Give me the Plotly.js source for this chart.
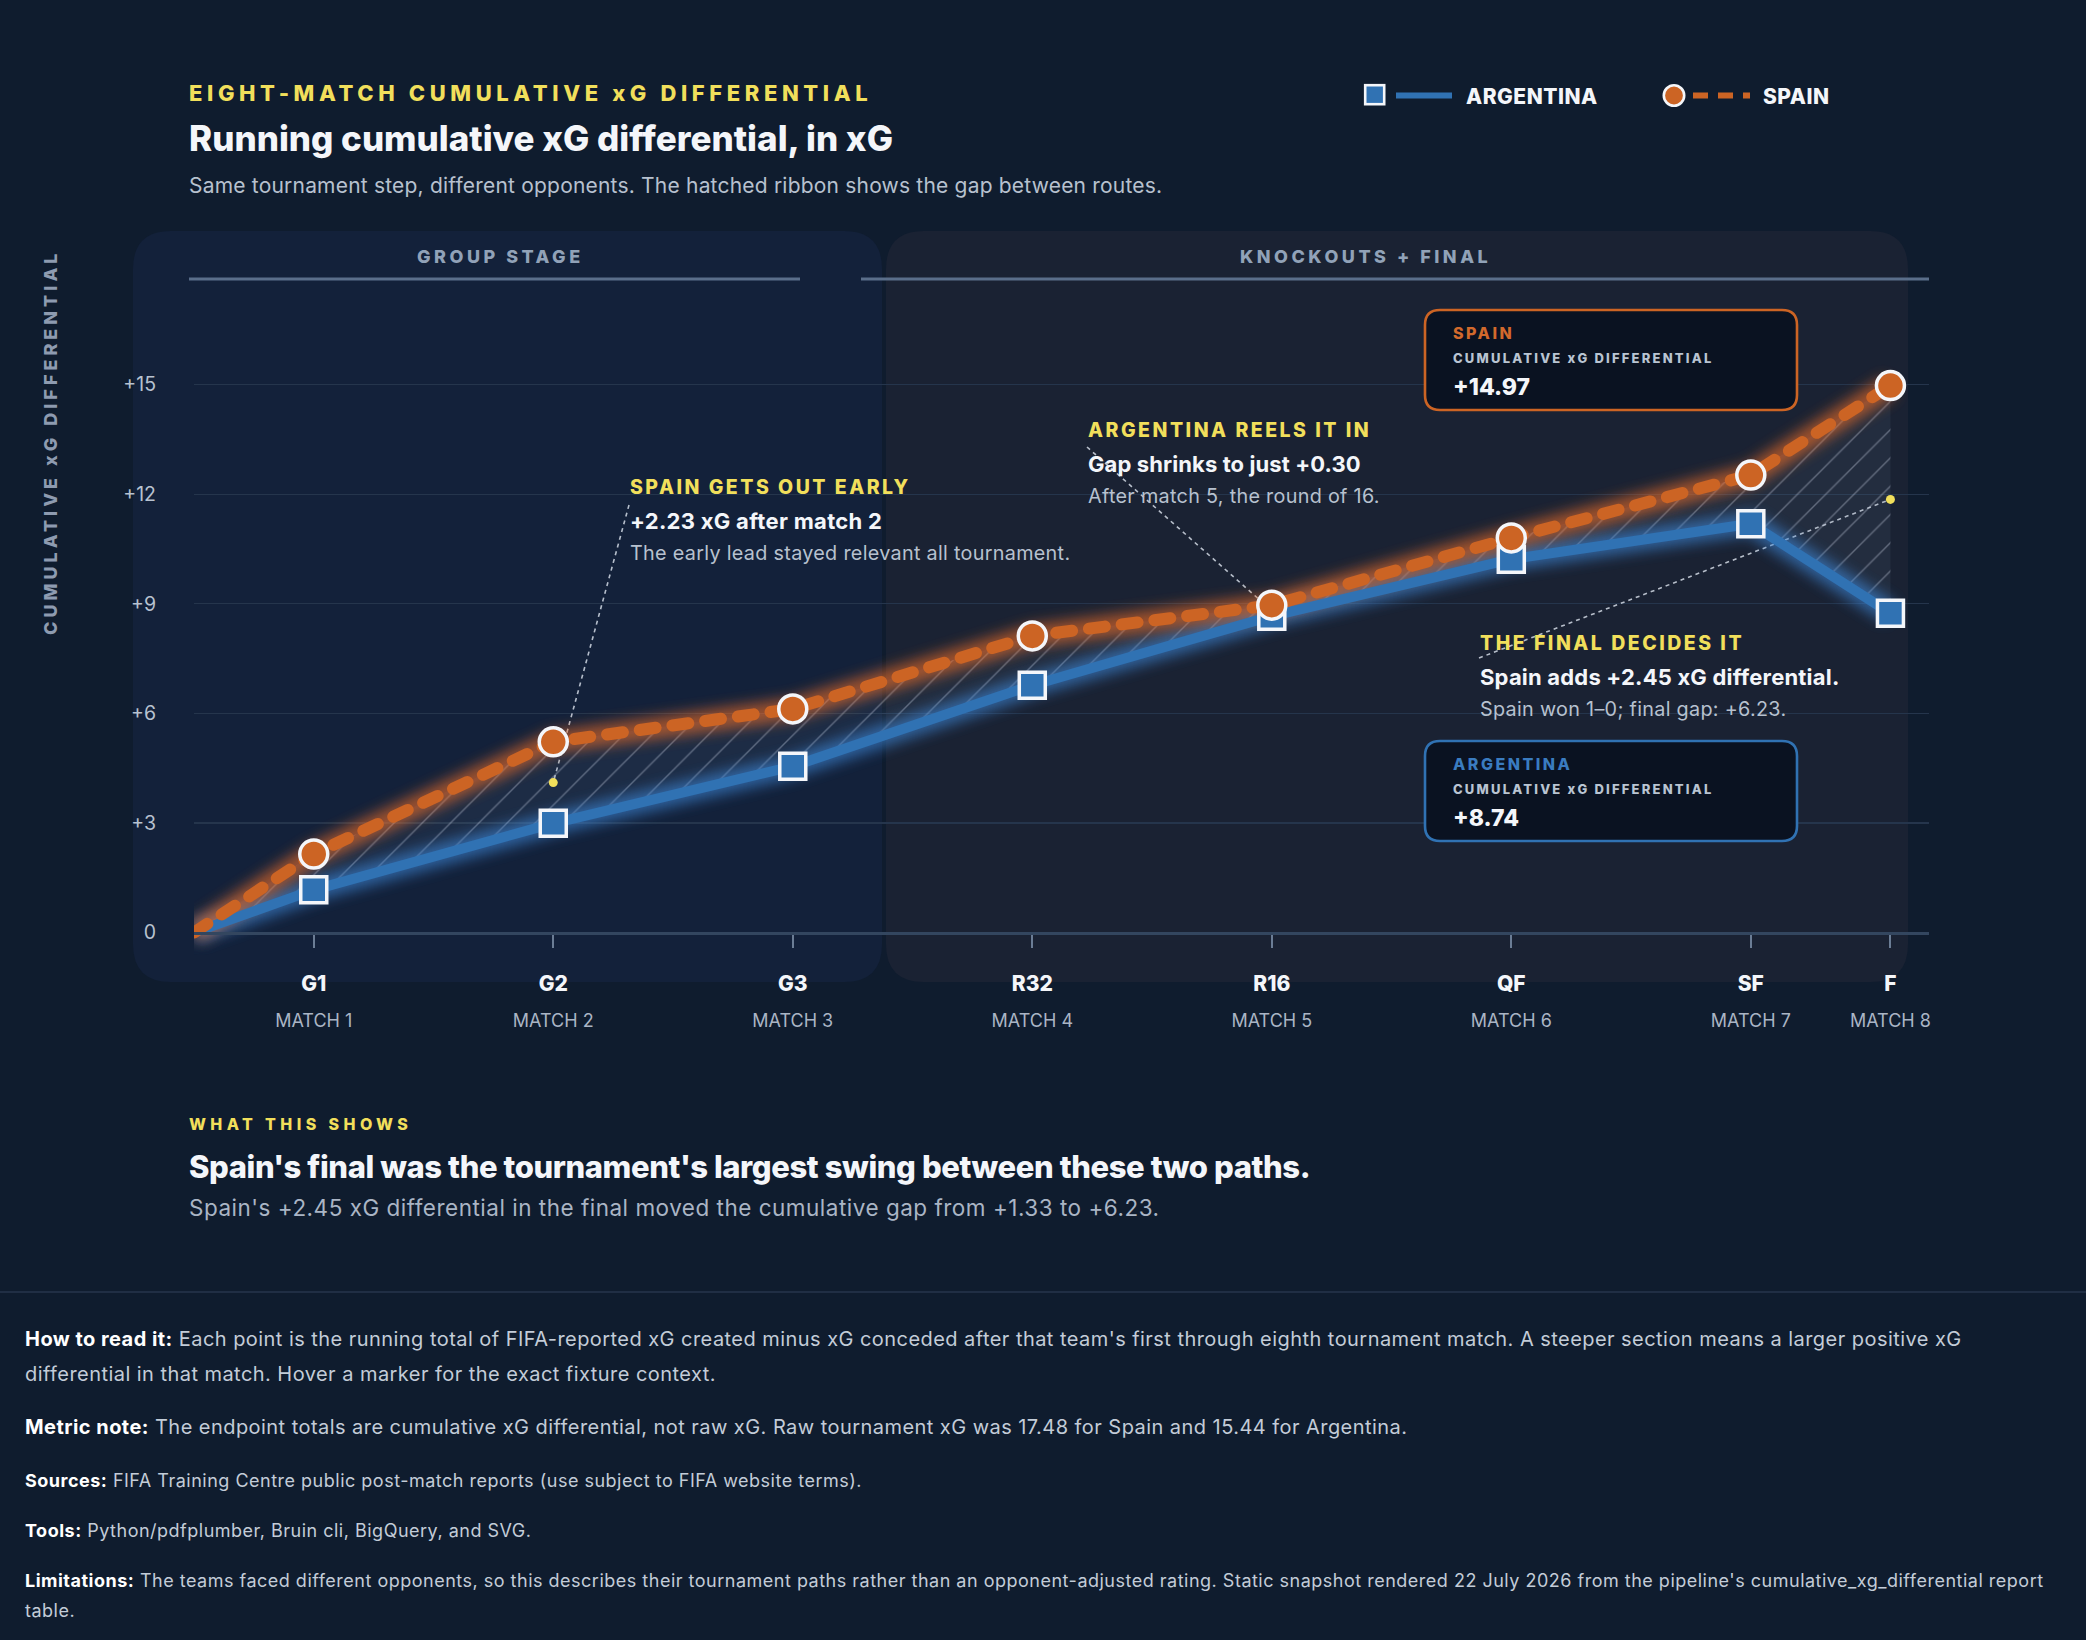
<!DOCTYPE html>
<html>
<head>
<meta charset="utf-8">
<script src="https://cdn.plot.ly/plotly-3.0.1.min.js"></script>
<style>
  html, body { margin: 0; padding: 0; }
  body {
    width: 2086px; height: 1640px; position: relative; overflow: hidden;
    background: #0f1c2e; font-family: Inter, "Noto Sans", sans-serif; color: #f4f6fa;
  }
  #chart { position: absolute; left: 0; top: 0; width: 2086px; height: 1640px; }
  .txt { position: absolute; white-space: nowrap; z-index: 2; }
  .eyebrow { left: 189px; top: 80px; font-size: 22px; line-height: 26px; font-weight: 800; letter-spacing: 4.6px; color: #f1df5b; }
  .title { left: 189px; top: 117px; font-size: 35px; line-height: 42px; font-weight: 800; letter-spacing: 0; color: #f4f6fa; }
  .subtitle { left: 189px; top: 172px; font-size: 21px; line-height: 27px; letter-spacing: 0.2px; color: #b7c1cf; }
  .leg-text { font-size: 21px; line-height: 26px; font-weight: 800; letter-spacing: 0.5px; color: #f4f6fa; top: 84px; }
  .shows-kicker { left: 189px; top: 1114px; font-size: 16px; line-height: 20px; font-weight: 800; letter-spacing: 4.4px; color: #f1df5b; }
  .shows-head { left: 189px; top: 1148px; font-size: 31px; line-height: 38px; font-weight: 800; letter-spacing: -0.4px; color: #f4f6fa; }
  .shows-sub { left: 189px; top: 1194px; font-size: 22.5px; line-height: 27px; letter-spacing: 0.5px; color: #aab5c5; }
  .rule { position: absolute; left: 0; top: 1291px; width: 2086px; height: 2px; background: #202e44; }
  .foot { left: 25px; color: #c3ccd8; }
  .foot b { color: #ffffff; font-weight: 700; }
  .foot.big { font-size: 20px; line-height: 35px; letter-spacing: 0.45px; }
  .foot.small { font-size: 18px; line-height: 30px; letter-spacing: 0.5px; }
</style>
</head>
<body>
<div id="chart"></div>

<div class="txt eyebrow">EIGHT-MATCH CUMULATIVE xG DIFFERENTIAL</div>
<div class="txt title">Running cumulative xG differential, in xG</div>
<div class="txt subtitle">Same tournament step, different opponents. The hatched ribbon shows the gap between routes.</div>

<!-- legend -->
<svg class="txt" style="left:1362px; top:82px;" width="96" height="28">
  <rect x="3.2" y="3.2" width="19" height="19" fill="#3072b3" stroke="#f4f6fa" stroke-width="2.6"></rect>
  <line x1="34" y1="13.5" x2="90" y2="13.5" stroke="#3072b3" stroke-width="6"></line>
</svg>
<div class="txt leg-text" style="left:1466px;">ARGENTINA</div>
<svg class="txt" style="left:1660px; top:82px;" width="96" height="28">
  <circle cx="14" cy="13.5" r="10.2" fill="#cc6424" stroke="#f4f6fa" stroke-width="2.6"></circle>
  <line x1="33" y1="13.5" x2="90" y2="13.5" stroke="#cc6424" stroke-width="6" stroke-dasharray="15,10"></line>
</svg>
<div class="txt leg-text" style="left:1763px;">SPAIN</div>

<div class="txt shows-kicker">WHAT THIS SHOWS</div>
<div class="txt shows-head" id="showsHead"></div>
<div class="txt shows-sub" id="showsSub"></div>

<div class="rule"></div>
<div class="txt foot big" style="top:1322px;"><b>How to read it:</b> Each point is the running total of FIFA-reported xG created minus xG conceded after that team's first through eighth tournament match. A steeper section means a larger positive xG<br>differential in that match. Hover a marker for the exact fixture context.</div>
<div class="txt foot big" style="top:1410px;"><b>Metric note:</b> The endpoint totals are cumulative xG differential, not raw xG. Raw tournament xG was 17.48 for Spain and 15.44 for Argentina.</div>
<div class="txt foot small" style="top:1466px;"><b>Sources:</b> FIFA Training Centre public post-match reports (use subject to FIFA website terms).</div>
<div class="txt foot small" style="top:1516px;"><b>Tools:</b> Python/pdfplumber, Bruin cli, BigQuery, and SVG.</div>
<div class="txt foot small" style="top:1566px;"><b>Limitations:</b> The teams faced different opponents, so this describes their tournament paths rather than an opponent-adjusted rating. Static snapshot rendered 22 July 2026 from the pipeline's cumulative_xg_differential report<br>table.</div>

<script>
// ---- data -------------------------------------------------------------
const stages = ['G1', 'G2', 'G3', 'R32', 'R16', 'QF', 'SF', 'F'];
const matchLabels = ['MATCH 1', 'MATCH 2', 'MATCH 3', 'MATCH 4', 'MATCH 5', 'MATCH 6', 'MATCH 7', 'MATCH 8'];
const spainCum = [2.15, 5.22, 6.12, 8.12, 8.96, 10.80, 12.52, 14.97];
const argentinaCum = [1.17, 2.99, 4.55, 6.77, 8.66, 10.22, 11.19, 8.74];
const startValue = 0;
const yTickVals = [0, 3, 6, 9, 12, 15];
const yTickText = ['0', '+3', '+6', '+9', '+12', '+15'];

// ---- horizontal placement of the match steps (the final sits close to the edge)
const startPos = 0.5;
const matchPos = [1, 2, 3, 4, 5, 6, 7, 7.583];

// ---- geometry ---------------------------------------------------------
const W = 2086, H = 1640;
const box = { left: 194, right: 1929, top: 231, bottom: 982 };
const xRange = [0.5, 7.744];
const yRange = [-1.352, 19.2];
const pw = box.right - box.left, ph = box.bottom - box.top;
const paperX = px => (px - box.left) / pw;
const paperY = py => (box.bottom - py) / ph;
const dataX = px => xRange[0] + (px - box.left) / pw * (xRange[1] - xRange[0]);
const dataY = py => yRange[0] + (box.bottom - py) / ph * (yRange[1] - yRange[0]);

const ORANGE = '#cc6424', BLUE = '#3072b3', YELLOW = '#f1df5b', WHITE = '#f4f6fa', GREY = '#b7c1cf';
const FONT = 'Inter, "Noto Sans", sans-serif';

const fmt = v => (v >= 0 ? '+' : '') + v.toFixed(2);
const gap = spainCum.map((s, i) => s - argentinaCum[i]);
const mid = spainCum.map((s, i) => (s + argentinaCum[i]) / 2);
const last = spainCum.length - 1;
const spainFinalStep = spainCum[last] - spainCum[last - 1];

document.getElementById('showsHead').textContent =
  "Spain's final was the tournament's largest swing between these two paths.";
document.getElementById('showsSub').textContent =
  "Spain's " + fmt(spainFinalStep) + " xG differential in the final moved the cumulative gap from " +
  fmt(gap[last - 1]) + " to " + fmt(gap[last]) + ".";

const lineX = [startPos].concat(matchPos);
const spainY = [startValue].concat(spainCum);
const argY = [startValue].concat(argentinaCum);

// ---- traces -----------------------------------------------------------
const traces = [
  { name: 'ribbonBase', x: lineX, y: argY, mode: 'lines', line: { width: 0, color: 'rgba(0,0,0,0)' },
    hoverinfo: 'skip', showlegend: false },
  { name: 'ribbon', x: lineX, y: spainY, mode: 'lines', line: { width: 0, color: 'rgba(0,0,0,0)' },
    fill: 'tonexty', fillcolor: 'rgba(120,140,170,0.10)',
    fillpattern: { shape: '/', size: 20, solidity: 0.07, fgcolor: 'rgba(200,210,225,0.38)', bgcolor: 'rgba(120,140,170,0.10)' },
    hoverinfo: 'skip', showlegend: false },
  { name: 'glowArg', x: lineX, y: argY, mode: 'lines', line: { width: 22, color: 'rgba(60,135,215,0.75)' },
    hoverinfo: 'skip', showlegend: false },
  { name: 'glowSpain', x: lineX, y: spainY, mode: 'lines', line: { width: 22, color: 'rgba(235,110,40,0.75)' },
    hoverinfo: 'skip', showlegend: false },
  { name: 'Argentina', x: lineX, y: argY, mode: 'lines', line: { width: 10, color: BLUE },
    hoverinfo: 'skip', showlegend: false },
  { name: 'Spain', x: lineX, y: spainY, mode: 'lines', line: { width: 12, color: ORANGE, dash: '16px,17px' },
    hoverinfo: 'skip', showlegend: false },
  { name: 'Argentina points', x: matchPos, y: argentinaCum, mode: 'markers',
    marker: { symbol: 'square', size: 26, color: BLUE, line: { color: WHITE, width: 3.5 } },
    showlegend: false },
  { name: 'Spain points', x: matchPos, y: spainCum, mode: 'markers',
    marker: { symbol: 'circle', size: 28, color: ORANGE, line: { color: WHITE, width: 3.5 } },
    showlegend: false },
  { name: 'gap marks', x: [matchPos[1], matchPos[last]], y: [mid[1], mid[last]], mode: 'markers',
    marker: { size: 9, color: YELLOW }, hoverinfo: 'skip', showlegend: false },
  { name: 'match axis', x: matchPos, y: spainCum, xaxis: 'x2', mode: 'markers',
    marker: { opacity: 0, size: 1 }, hoverinfo: 'skip', showlegend: false }
];

// ---- shapes -----------------------------------------------------------
function roundRect(x0, y0, x1, y1, r) {
  const X = paperX, Y = paperY;
  const p = (x, y) => X(x) + ',' + Y(y);
  return 'M' + p(x0 + r, y0) + ' L' + p(x1 - r, y0) + ' Q' + p(x1, y0) + ' ' + p(x1, y0 + r) +
    ' L' + p(x1, y1 - r) + ' Q' + p(x1, y1) + ' ' + p(x1 - r, y1) +
    ' L' + p(x0 + r, y1) + ' Q' + p(x0, y1) + ' ' + p(x0, y1 - r) +
    ' L' + p(x0, y0 + r) + ' Q' + p(x0, y0) + ' ' + p(x0 + r, y0) + ' Z';
}
const shapes = [
  { type: 'path', xref: 'paper', yref: 'paper', path: roundRect(133, 231, 882, 982, 38),
    fillcolor: '#13213a', line: { width: 0 }, layer: 'below' },
  { type: 'path', xref: 'paper', yref: 'paper', path: roundRect(886, 231, 1908, 982, 38),
    fillcolor: '#1a2233', line: { width: 0 }, layer: 'below' },
  { type: 'line', xref: 'paper', yref: 'paper', x0: paperX(189), x1: paperX(800), y0: paperY(279), y1: paperY(279),
    line: { color: '#5a6e8a', width: 3 }, layer: 'below' },
  { type: 'line', xref: 'paper', yref: 'paper', x0: paperX(861), x1: paperX(1929), y0: paperY(279), y1: paperY(279),
    line: { color: '#5a6e8a', width: 3 }, layer: 'below' },
  { type: 'path', xref: 'paper', yref: 'paper', path: roundRect(1425, 310, 1797, 410, 15),
    fillcolor: '#0a1221', line: { color: ORANGE, width: 2.6 }, layer: 'above' },
  { type: 'path', xref: 'paper', yref: 'paper', path: roundRect(1425, 741, 1797, 841, 15),
    fillcolor: '#0a1221', line: { color: BLUE, width: 2.6 }, layer: 'above' },
  // pointer lines from each callout to its gap mark
  { type: 'line', xref: 'x', yref: 'y', x0: dataX(629), y0: dataY(505), x1: matchPos[1], y1: mid[1],
    line: { color: 'rgba(222,230,240,0.8)', width: 1.6, dash: '4px,4px' }, layer: 'between' },
  { type: 'line', xref: 'x', yref: 'y', x0: dataX(1087), y0: dataY(447), x1: matchPos[4], y1: mid[4],
    line: { color: 'rgba(222,230,240,0.8)', width: 1.6, dash: '4px,4px' }, layer: 'between' },
  { type: 'line', xref: 'x', yref: 'y', x0: dataX(1479), y0: dataY(658), x1: matchPos[last], y1: mid[last],
    line: { color: 'rgba(222,230,240,0.8)', width: 1.6, dash: '4px,4px' }, layer: 'between' }
];

// ---- annotations ------------------------------------------------------
function note(text, px, py, size, color, weight, extra) {
  return Object.assign({
    text: text, xref: 'paper', yref: 'paper', x: paperX(px), y: paperY(py),
    xanchor: 'left', yanchor: 'middle', align: 'left', showarrow: false, borderpad: 0,
    font: { family: FONT, size: size, color: color, weight: weight }
  }, extra || {});
}
const spaced = (t, s) => '<span style="letter-spacing:' + s + 'px">' + t + '</span>';

const annotations = [
  note(spaced('CUMULATIVE xG DIFFERENTIAL', 4), 50, 443, 18, '#8e9bb0', 800, { textangle: -90, xanchor: 'center' }),
  note(spaced('GROUP STAGE', 3.5), 500, 257, 18, '#91a2b8', 800, { xanchor: 'center' }),
  note(spaced('KNOCKOUTS + FINAL', 3.5), 1365, 257, 18, '#91a2b8', 800, { xanchor: 'center' }),

  note(spaced('SPAIN GETS OUT EARLY', 2.5), 629, 487, 19.5, YELLOW, 800),
  note(spaced(fmt(gap[1]) + ' xG after match 2', 0.3), 629, 521, 22, WHITE, 700),
  note(spaced('The early lead stayed relevant all tournament.', 0.3), 629, 553, 19.8, GREY, 400),

  note(spaced('ARGENTINA REELS IT IN', 2.5), 1087, 430, 19.5, YELLOW, 800),
  note(spaced('Gap shrinks to just ' + fmt(gap[4]), 0.1), 1087, 464, 22, WHITE, 700),
  note(spaced('After match 5, the round of 16.', 0.3), 1087, 496, 19.8, GREY, 400),

  note(spaced('THE FINAL DECIDES IT', 2.5), 1479, 643, 19.5, YELLOW, 800),
  note(spaced('Spain adds ' + fmt(spainFinalStep) + ' xG differential.', 0.2), 1479, 677, 22, WHITE, 700),
  note(spaced('Spain won 1–0; final gap: ' + fmt(gap[last]) + '.', 0.3), 1479, 709, 19.8, GREY, 400),

  note(spaced('SPAIN', 2.5), 1452, 333, 16, '#d2692c', 800),
  note(spaced('CUMULATIVE xG DIFFERENTIAL', 2.2), 1452, 358, 13, '#b9c4d2', 800),
  note(fmt(spainCum[last]), 1452, 387, 23, WHITE, 800),

  note(spaced('ARGENTINA', 2.5), 1452, 764, 16, '#3a7cc0', 800),
  note(spaced('CUMULATIVE xG DIFFERENTIAL', 2.2), 1452, 789, 13, '#b9c4d2', 800),
  note(fmt(argentinaCum[last]), 1452, 818, 23, WHITE, 800)
];

const zeroPos = paperY(box.bottom - (0 - yRange[0]) / (yRange[1] - yRange[0]) * ph);

const layout = {
  width: W, height: H,
  margin: { l: box.left, r: W - box.right, t: box.top, b: H - box.bottom, pad: 0 },
  paper_bgcolor: 'rgba(0,0,0,0)', plot_bgcolor: 'rgba(0,0,0,0)',
  font: { family: FONT, color: WHITE },
  showlegend: false,
  xaxis: {
    range: xRange, anchor: 'free', position: zeroPos,
    tickmode: 'array', tickvals: matchPos, ticktext: stages,
    tickfont: { family: FONT, size: 21, color: WHITE, weight: 800 },
    ticks: 'outside', ticklen: 13, tickwidth: 2, tickcolor: '#6b7d95',
    ticklabelstandoff: 18,
    showline: true, linecolor: '#33465f', linewidth: 3,
    showgrid: false, zeroline: false, fixedrange: true
  },
  xaxis2: {
    range: xRange, overlaying: 'x', anchor: 'free', position: zeroPos,
    tickmode: 'array', tickvals: matchPos, ticktext: matchLabels,
    tickfont: { family: FONT, size: 18, color: '#aab5c5' },
    ticks: '', ticklabelstandoff: 75,
    showline: false, showgrid: false, zeroline: false, fixedrange: true
  },
  yaxis: {
    range: yRange, tickmode: 'array', tickvals: yTickVals, ticktext: yTickText,
    tickfont: { family: FONT, size: 19.5, color: '#b8c2d0' },
    ticks: '', ticklabelstandoff: 37,
    showgrid: true, gridcolor: '#25354c', gridwidth: 1.2,
    zeroline: false, showline: false, fixedrange: true
  },
  shapes: shapes,
  annotations: annotations
};

const gd = document.getElementById('chart');
Plotly.newPlot(gd, traces, layout, { staticPlot: true, displayModeBar: false }).then(function () {
  // soft glow under both lines, rounded dash ends on the Spain line
  const NS = 'http://www.w3.org/2000/svg';
  const svg = gd.querySelector('svg.main-svg');
  let defs = svg.querySelector('defs');
  if (!defs) { defs = document.createElementNS(NS, 'defs'); svg.insertBefore(defs, svg.firstChild); }
  const filter = document.createElementNS(NS, 'filter');
  filter.setAttribute('id', 'lineGlow');
  filter.setAttribute('filterUnits', 'userSpaceOnUse');
  filter.setAttribute('x', '-400'); filter.setAttribute('y', '-400');
  filter.setAttribute('width', '2800'); filter.setAttribute('height', '2400');
  const blur = document.createElementNS(NS, 'feGaussianBlur');
  blur.setAttribute('stdDeviation', '7');
  filter.appendChild(blur);
  defs.appendChild(filter);

  gd.querySelectorAll('.scatterlayer .trace').forEach(function (g) {
    const cd = g.__data__;
    const name = cd && cd[0] && cd[0].trace ? cd[0].trace.name : '';
    if (name === 'glowArg' || name === 'glowSpain') {
      g.querySelectorAll('path.js-line').forEach(function (p) {
        p.setAttribute('filter', 'url(#lineGlow)');
        p.style.opacity = '0.85';
      });
    }
    if (name === 'Spain' || name === 'Argentina') {
      g.querySelectorAll('path.js-line').forEach(function (p) {
        p.style.strokeLinecap = 'round';
        p.style.strokeLinejoin = 'round';
      });
    }
  });
});
</script>
</body>
</html>
